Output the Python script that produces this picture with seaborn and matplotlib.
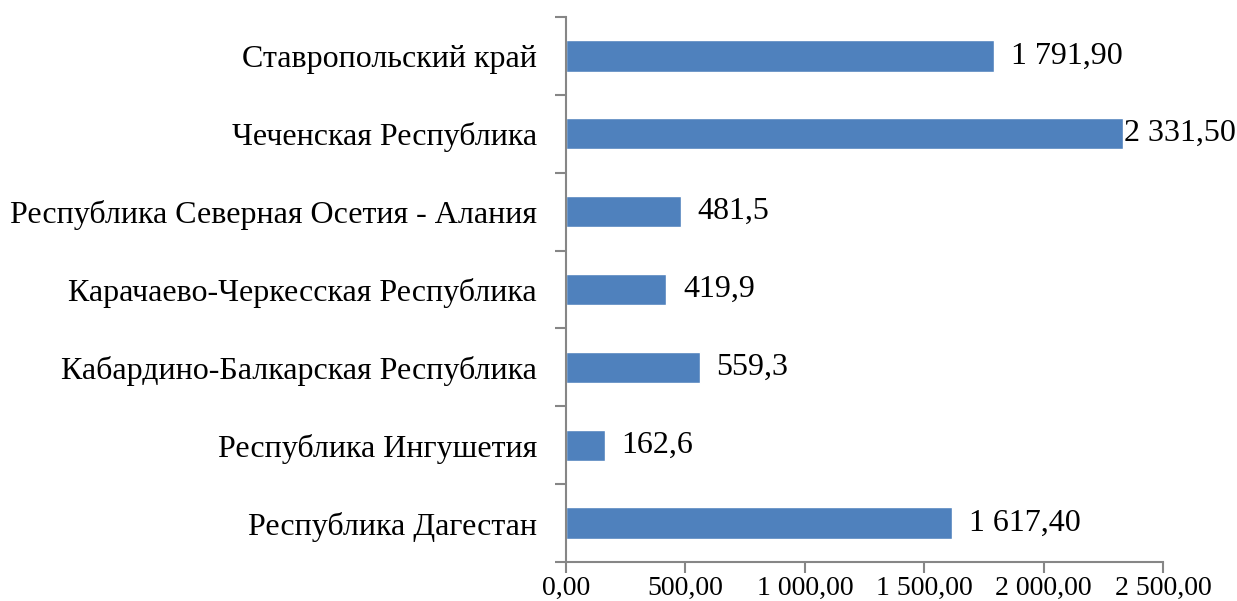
import pandas as pd
import seaborn as sns
import matplotlib.pyplot as plt
from matplotlib.ticker import FixedLocator

# === Data ===
regions = [
    "Ставропольский край",
    "Чеченская Республика",
    "Республика Северная Осетия - Алания",
    "Карачаево-Черкесская Республика",
    "Кабардино-Балкарская Республика",
    "Республика Ингушетия",
    "Республика Дагестан",
]
values = [1791.9, 2331.5, 481.5, 419.9, 559.3, 162.6, 1617.4]
value_labels = ["1 791,90", "2 331,50", "481,5", "419,9", "559,3", "162,6", "1 617,40"]
x_ticks = [0, 500, 1000, 1500, 2000, 2500]
x_tick_labels = ["0,00", "500,00", "1 000,00", "1 500,00", "2 000,00", "2 500,00"]

df = pd.DataFrame({"region": regions, "value": values})

sns.set_style("white")
plt.rcParams['font.family'] = ['Liberation Serif', 'DejaVu Serif']
plt.rcParams['text.color'] = "black"
plt.rcParams['xtick.color'] = "black"
plt.rcParams['ytick.color'] = "black"

fig = plt.figure(figsize=(12.37, 6.01), dpi=100)
ax = fig.add_axes([0.4576, 0.0649, 0.4826, 0.9068])

sns.barplot(data=df, x="value", y="region", color="#4F81BD", width=0.4,
            saturation=1, ax=ax)

# === Data labels ===
for i, (v, lab) in enumerate(zip(values, value_labels)):
    off = 1 if v == max(values) else 12
    ax.annotate(lab, (v, i), xytext=(off, 0), textcoords="offset points",
                ha="left", va="center", fontsize=23, color="black")

# === Axes ===
ax.set_xlim(0, 2500)
ax.set_ylim(len(regions) - 0.5, -0.5)
ax.set_xticks(x_ticks)
ax.set_xticklabels(x_tick_labels, fontsize=20)
ax.set_xlabel("")
ax.set_ylabel("")
ax.tick_params(axis="y", which="major", left=True, length=0, labelsize=23, pad=21,
               labelcolor="black")
ax.yaxis.set_minor_locator(FixedLocator([i - 0.5 for i in range(len(regions) + 1)]))
ax.tick_params(axis="y", which="minor", left=True, length=8, width=1.5,
               color="#868686", direction="out")
ax.tick_params(axis="x", which="major", bottom=True, length=8, width=1.5,
               color="#868686", direction="out", pad=2, labelcolor="black")

for s in ["top", "right"]:
    ax.spines[s].set_visible(False)
for s in ["left", "bottom"]:
    ax.spines[s].set_color("#868686")
    ax.spines[s].set_linewidth(1.5)

fig.savefig("out.png", dpi=100)
